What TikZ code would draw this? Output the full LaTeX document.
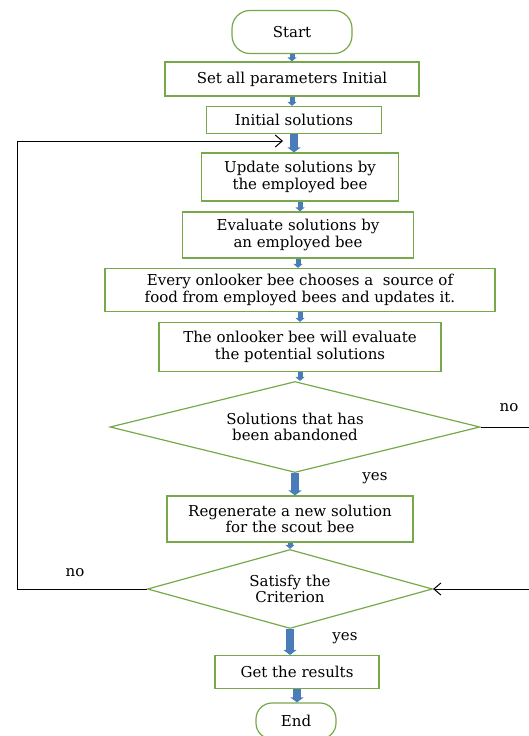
\documentclass[tikz,border=0pt]{standalone}
\usepackage{fontspec}
\setmainfont{DejaVu Serif}
\usetikzlibrary{shapes.geometric,arrows.meta}
\definecolor{boxgreen}{RGB}{119,169,74}
\definecolor{flowblue}{RGB}{74,124,186}

\begin{document}
\begin{tikzpicture}[x=1pt,y=-1pt,
  procbox/.style={draw=boxgreen,line width=1.2pt,align=center,inner sep=2pt,
    font=\fontsize{15}{16.5}\selectfont},
  termbox/.style={procbox,rounded corners=18pt},
  decision/.style={procbox,diamond,inner sep=0pt},
  flow/.style={draw=flowblue,line width=5pt,-{Triangle[width=9pt,length=4pt]}},
  bigflow/.style={draw=flowblue,line width=8pt,-{Triangle[width=13pt,length=5pt]}},
  loopline/.style={draw=black,line width=1pt,-{Straight Barb[length=7pt,width=12pt]}},
  plainline/.style={draw=black,line width=1pt},
  lbl/.style={font=\fontsize{15}{16.5}\selectfont}]
\useasboundingbox (0,0) rectangle (529,736);
% Boxes
\node[termbox,minimum width=120pt,minimum height=43pt] (start) at (292,32) {Start};
\node[procbox,minimum width=254pt,minimum height=34pt] (setpar) at (292,79) {Set all parameters Initial};
\node[procbox,minimum width=175pt,minimum height=27pt] (init) at (294,120) {Initial solutions};
\node[procbox,minimum width=197pt,minimum height=48pt] (update) at (300,177) {Update solutions by\\the employed bee};
\node[procbox,minimum width=231pt,minimum height=46pt] (evalemp) at (298,235) {Evaluate solutions by\\an employed bee};
\node[procbox,minimum width=390pt,minimum height=43pt] (choose) at (300,290) {Every onlooker bee chooses a\ \ source of\\food from employed bees and updates it.};
\node[procbox,minimum width=282pt,minimum height=49pt] (evalonl) at (300,347) {The onlooker bee will evaluate\\the potential solutions};
\node[decision,aspect=4.5,minimum width=370pt,minimum height=91pt] (abandon) at (295,427) {Solutions that has\\been abandoned};
\node[procbox,minimum width=246pt,minimum height=46pt] (regen) at (290,519) {Regenerate a new solution\\for the scout bee};
\node[decision,aspect=4,minimum width=285pt,minimum height=79pt] (satisfy) at (290,589) {Satisfy the\\Criterion};
\node[procbox,minimum width=164pt,minimum height=33pt] (result) at (297,672) {Get the results};
\node[termbox,rounded corners=16pt,minimum width=80pt,minimum height=36pt] (finish) at (296,721) {End};
% Blue arrows
\draw[flow] (start.south) -- (start.south |- setpar.north);
\draw[flow] (setpar.south) -- (setpar.south |- init.north);
\draw[bigflow] (init.south) -- (init.south |- update.north);
\draw[flow] (update.south) -- (update.south |- evalemp.north);
\draw[flow] (evalemp.south) -- (evalemp.south |- choose.north);
\draw[flow] (choose.south) -- (choose.south |- evalonl.north);
\draw[flow] (evalonl.south) -- (evalonl.south |- abandon.north);
\draw[bigflow] (abandon.south) -- (abandon.south |- regen.north);
\draw[flow] (regen.south) -- (regen.south |- satisfy.north);
\draw[bigflow] (satisfy.south) -- (satisfy.south |- result.north);
\draw[bigflow] (result.south) -- (result.south |- finish.north);
% Loop back and side lines
\coordinate (loopcorner) at (17,141);
\coordinate (looptip) at (283,141);
\coordinate (edgeA) at (529,427);
\coordinate (edgeB) at (529,589);
\draw[loopline] (satisfy.west) -| (loopcorner) -- (looptip);
\draw[plainline] (abandon.east) -- (edgeA);
\draw[loopline] (edgeB) -- (satisfy.east);
% Labels
\node[lbl] (noA) at (509,408) {no};
\node[lbl] (yesA) at (375,478) {yes};
\node[lbl] (noB) at (75,573) {no};
\node[lbl] (yesB) at (345,638) {yes};
\end{tikzpicture}
\end{document}
